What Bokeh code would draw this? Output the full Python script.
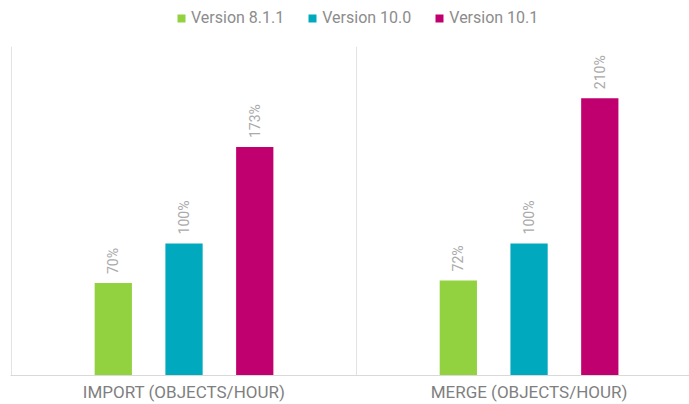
import math
from bokeh.plotting import figure
from bokeh.models import (ColumnDataSource, Legend, LegendItem, FixedTicker, Range1d)
from bokeh.core.properties import value
from bokeh.embed import file_html
from bokeh.resources import INLINE

categories = ["IMPORT (OBJECTS/HOUR)", "MERGE (OBJECTS/HOUR)"]
series = ["Version 8.1.1", "Version 10.0", "Version 10.1"]
colors = ["#92d13f", "#00a9bd", "#c0006e"]
values = {
    "Version 8.1.1": [70, 72],
    "Version 10.0": [100, 100],
    "Version 10.1": [173, 210],
}

AXIS_TOP = 249      # top of the value axis (plot area)
FONT = "Roboto"
p = figure(width=689, height=404, output_backend="svg", toolbar_location=None,
           x_range=Range1d(-0.0029, 1.965), y_range=Range1d(0, 284),
           min_border_left=10, min_border_right=0, min_border_bottom=20, min_border_top=0)
p.outline_line_color = None
p.grid.visible = False
p.background_fill_color = "white"
p.border_fill_color = "white"

# left axis line and category separator(s), only up to plot-area top
bounds = list(range(len(categories)))
p.segment(x0=bounds, y0=[0] * len(bounds), x1=bounds, y1=[AXIS_TOP] * len(bounds),
          line_color="#e3e3e3", line_width=1)

offsets = [-0.205, 0.0, 0.205]
bar_w = 0.108
items = []
for i, s in enumerate(series):
    xs = [c + 0.5 + offsets[i] for c in range(len(categories))]
    src = ColumnDataSource(dict(x=xs, top=values[s], lab=[f"{v}%" for v in values[s]]))
    r = p.vbar(x="x", top="top", width=bar_w, bottom=0, source=src,
               fill_color=colors[i], line_color=None)
    p.text(x="x", y="top", text="lab", source=src, angle=math.pi / 2,
           text_align="left", text_baseline="middle", y_offset=-9,
           text_font_size="14px", text_color="#aaaaaa", text_font=value(FONT))
    items.append(LegendItem(label=s, renderers=[r]))

p.xaxis.ticker = FixedTicker(ticks=[0.5 + i for i in range(len(categories))])
p.xaxis.major_label_overrides = {0.5 + i: c for i, c in enumerate(categories)}
p.xaxis.major_tick_line_color = None
p.xaxis.minor_tick_line_color = None
p.xaxis.major_tick_out = 0
p.xaxis.major_tick_in = 0
p.xaxis.minor_tick_out = 0
p.xaxis.axis_line_color = "#d9d9d9"
p.xaxis.major_label_text_font = FONT
p.xaxis.major_label_text_font_size = "17px"
p.xaxis.major_label_text_color = "#7f7f7f"
p.xaxis.major_label_standoff = 6

p.yaxis.visible = False

legend = Legend(items=items, orientation="horizontal", location=(166, 348),
                glyph_width=10, glyph_height=10, label_standoff=5, spacing=23,
                label_text_font=FONT, label_text_font_size="16px",
                label_text_color="#8c8c8c", border_line_color=None,
                background_fill_alpha=0, padding=0, margin=0, label_height=18)
p.add_layout(legend)

open("out.html", "w").write(file_html(p, INLINE))
